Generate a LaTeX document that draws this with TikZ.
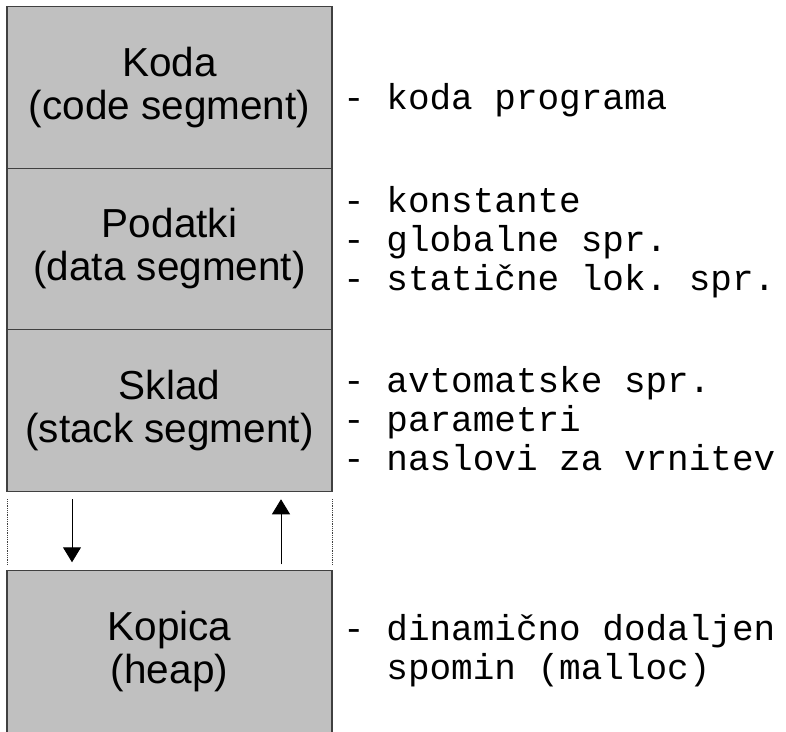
\documentclass[tikz,border=0pt]{standalone}
\usepackage{fontspec}
\setmainfont{Liberation Sans}
\setmonofont{Liberation Mono}
\usetikzlibrary{positioning,arrows.meta}
\definecolor{segfill}{HTML}{C0C0C0}
\definecolor{segline}{HTML}{404040}
\begin{document}
\begin{tikzpicture}
		[x=1pt,y=-1pt,
		seg/.style={rectangle,draw=segline,line width=1.2pt,fill=segfill,outer sep=0pt,
			minimum width=325pt,minimum height=161.5pt,align=center,
			font=\fontsize{40.5}{43}\selectfont},
		note/.style={anchor=west,align=left,inner sep=0pt,
			font=\ttfamily\fontsize{36}{39}\selectfont},
		gap/.style={densely dotted,segline,line width=0.8pt},
		>={Triangle[width=18pt,length=15pt]}]
	\useasboundingbox (0,0) rectangle (786,731);
	\node[seg] (koda) at (169.5,87.5) {Koda\\(code segment)};
	\node[seg,below=0pt of koda] (podatki) {Podatki\\(data segment)};
	\node[seg,below=0pt of podatki] (sklad) {Sklad\\(stack segment)};
	\node[seg,below=79pt of sklad,minimum height=162pt] (kopica) {Kopica\\(heap)};
	% opisi segmentov
	\node[note] (kodatxt) at (343,100) {- koda programa};
	\node[note] (podatkitxt) at (343,242) {- konstante\\- globalne spr.\\- statične lok. spr.};
	\node[note] (skladtxt) at (343,419) {- avtomatske spr.\\- parametri\\- naslovi za vrnitev};
	\node[note] (kopicatxt) at (343,651) {- dinamično dodaljen\\\phantom{- }spomin (malloc)};
	% prazen prostor med skladom in kopico
	\draw[gap] ([yshift=-8pt]sklad.south west) -- ([yshift=6pt]kopica.north west);
	\draw[gap] ([yshift=-8pt]sklad.south east) -- ([yshift=6pt]kopica.north east);
	\coordinate (dolzac) at ([xshift=65pt,yshift=-8pt]sklad.south west);
	\coordinate (dolkon) at ([xshift=65pt,yshift=8pt]kopica.north west);
	\coordinate (gorzac) at ([xshift=-51pt,yshift=6pt]kopica.north east);
	\coordinate (gorkon) at ([xshift=-51pt,yshift=-8pt]sklad.south east);
	\draw[->,line width=1pt] (dolzac) -- (dolkon);
	\draw[->,line width=0.9pt] (gorzac) -- (gorkon);
\end{tikzpicture}
\end{document}
